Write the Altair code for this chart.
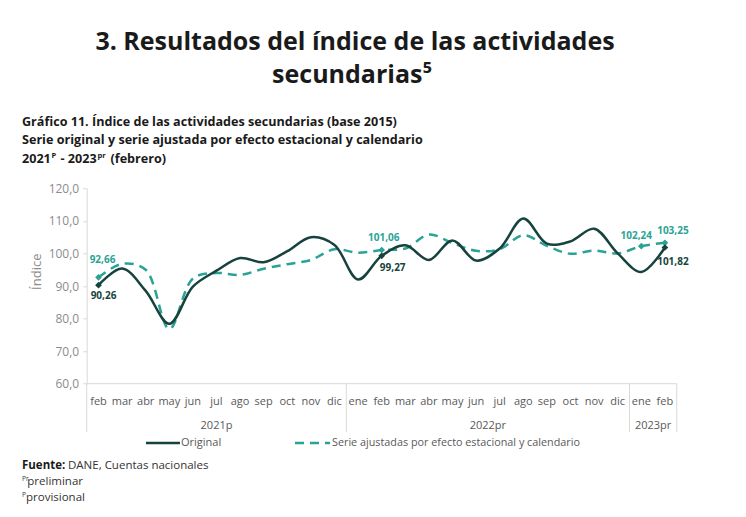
import altair as alt
import pandas as pd

# ---------------- data ----------------
months_2021 = ["feb", "mar", "abr", "may", "jun", "jul", "ago", "sep", "oct", "nov", "dic"]
months_2022 = ["ene", "feb", "mar", "abr", "may", "jun", "jul", "ago", "sep", "oct", "nov", "dic"]
months_2023 = ["ene", "feb"]
years = ["2021p", "2022pr", "2023pr"]

original = [90.26, 95.4, 88.5, 78.4, 89.8, 94.7, 98.6, 97.3, 100.7, 105.0, 102.6,
            92.0, 99.27, 102.5, 98.0, 104.0, 97.8, 101.5, 110.7, 103.0, 103.7, 107.6, 100.0,
            94.3, 101.82]
ajustada = [92.66, 96.8, 95.0, 76.8, 92.3, 94.0, 93.4, 95.3, 96.7, 98.0, 101.3,
            100.2, 101.06, 101.5, 105.8, 103.2, 100.8, 101.3, 105.6, 102.3, 99.9, 100.9, 100.0,
            102.24, 103.25]

y_ticks = [60, 70, 80, 90, 100, 110, 120]
marked_original = [0, 12, 24]
marked_ajustada = [0, 12, 23, 24]

# ---------------- layout helpers ----------------
W, H = 590, 195.4
OX, OY = 86.7, 188.3          # page position of the plot origin
DARK = "#17433e"
TEAL = "#2aa396"
GREY_TXT = "#595959"
AXIS_GREY = "#d9d9d9"
FONT = "Open Sans"

def px(x):
    return x - OX

def py(y):
    return y - OY

one = alt.Data(values=[{"k": 0}])
xs = alt.Scale(domain=[-0.5, 24.5])

def X(field):
    return alt.X(field, type="quantitative", scale=xs, axis=None)

def Y():
    return alt.Y("v:Q", scale=alt.Scale(domain=[60, 120], nice=False, zero=False),
                 axis=alt.Axis(values=y_ticks, labelExpr="replace(format(datum.value, '.1f'), '.', ',')",
                               title=None, grid=False, domainColor=AXIS_GREY, tickColor=AXIS_GREY,
                               tickSize=4, labelColor="#8c8c8c", labelFontSize=12, labelFont=FONT,
                               labelPadding=4, labelFontWeight="normal"))

# ---------------- tables ----------------
months = months_2021 + months_2022 + months_2023
n = len(months)
df_orig = pd.DataFrame({"i": range(n), "v": original})
df_adj = pd.DataFrame({"i": range(n), "v": ajustada})
df_months = pd.DataFrame({"i": range(n), "m": months})

sizes = [len(months_2021), len(months_2022), len(months_2023)]
bounds = [-0.5]
for s in sizes:
    bounds.append(bounds[-1] + s)
df_years = pd.DataFrame({"i": [(bounds[k] + bounds[k + 1]) / 2 for k in range(3)], "y": years})
df_bounds = pd.DataFrame({"b": bounds})

def fmt(v):
    return f"{v:.2f}".replace(".", ",")

# ---------------- layers ----------------
line_orig = alt.Chart(df_orig).mark_line(interpolate="catmull-rom", strokeWidth=2.5, color=DARK).encode(
    x=X("i"), y=Y())
line_adj = alt.Chart(df_adj).mark_line(interpolate="catmull-rom", strokeWidth=2.5, color=TEAL,
                                       strokeDash=[9, 6]).encode(x=X("i"), y=Y())

pts_orig = alt.Chart(df_orig.iloc[marked_original]).mark_point(shape="diamond", filled=True, size=45,
                                                               color=DARK, opacity=1).encode(x=X("i"), y=Y())
pts_adj = alt.Chart(df_adj.iloc[marked_ajustada]).mark_point(shape="diamond", filled=True, size=45,
                                                             color=TEAL, opacity=1).encode(x=X("i"), y=Y())

def value_label(df, idx, color, dx, dy):
    d = df.iloc[[idx]].copy()
    d["t"] = d["v"].map(fmt)
    return alt.Chart(d).mark_text(font=FONT, fontSize=10, fontWeight="bold", color=color,
                                  dx=dx, dy=dy).encode(x=X("i"), y=Y(), text="t:N")

labels = [
    value_label(df_adj, 0, TEAL, 4, -17),
    value_label(df_orig, 0, DARK, 5, 11),
    value_label(df_adj, 12, TEAL, 2, -12),
    value_label(df_orig, 12, DARK, 11, 12),
    value_label(df_adj, 23, TEAL, -5, -10),
    value_label(df_adj, 24, TEAL, 8, -12),
    value_label(df_orig, 24, DARK, 8, 14),
]

month_txt = alt.Chart(df_months).mark_text(font=FONT, fontSize=11, color=GREY_TXT, baseline="middle").encode(
    x=X("i"), y=alt.value(py(401.7)), text="m:N")
year_txt = alt.Chart(df_years).mark_text(font=FONT, fontSize=11, color=GREY_TXT, baseline="middle").encode(
    x=X("i"), y=alt.value(py(425.7)), text="y:N")
seps = alt.Chart(df_bounds).mark_rule(color=AXIS_GREY, strokeWidth=1).encode(
    x=X("b"), y=alt.value(H), y2=alt.value(py(432)))
xline = alt.Chart(one).mark_rule(color=AXIS_GREY, strokeWidth=1).encode(
    x=alt.value(0), x2=alt.value(W), y=alt.value(H))

def text_at(txt, x, y, size, weight="normal", color="#1a1a1a", align="left", baseline="middle", angle=0):
    kw = dict(font=FONT, fontSize=size, fontWeight=weight, color=color, align=align, baseline=baseline)
    if angle:
        kw["angle"] = angle
    return alt.Chart(one).mark_text(**kw).encode(x=alt.value(px(x)), y=alt.value(py(y)), text=alt.value(txt))

# legend
leg_orig = alt.Chart(one).mark_rule(color=DARK, strokeWidth=2.5).encode(
    x=alt.value(px(146)), x2=alt.value(px(180)), y=alt.value(py(443)))
leg_adj = alt.Chart(one).mark_rule(color=TEAL, strokeWidth=2.5, strokeDash=[9, 6]).encode(
    x=alt.value(px(295)), x2=alt.value(px(330)), y=alt.value(py(443)))

SUB = 12.6
texts = [
    text_at("3. Resultados del índice de las actividades", 355, 42, 25, "bold", align="center"),
    text_at("secundarias\u2075", 352, 75, 25, "bold", align="center"),
    text_at("Gráfico 11. Índice de las actividades secundarias (base 2015)", 22, 122, SUB, "bold"),
    text_at("Serie original y serie ajustada por efecto estacional y calendario", 22, 140, SUB, "bold"),
    text_at("2021", 22, 159, SUB, "bold"),
    text_at("P", 51.5, 155.5, 7.5, "bold"),
    text_at("- 2023", 60.5, 159, SUB, "bold"),
    text_at("pr", 97.5, 155.5, 7.5, "bold"),
    text_at("(febrero)", 110.5, 159, SUB, "bold"),
    text_at("Índice", 37.3, 271.7, 13, color="#8c8c8c", align="center", angle=270),
    text_at("Original", 181, 443, 11, color=GREY_TXT),
    text_at("Serie ajustadas por efecto estacional y calendario", 332, 443, 10.8, color=GREY_TXT),
    text_at("Fuente:", 22, 466, 11.5, "bold"),
    text_at("DANE, Cuentas nacionales", 68, 466, 11.5, color="#333333"),
    text_at("Pr", 22, 479, 6.5, color="#333333"),
    text_at("preliminar", 27.3, 482, 11.5, color="#333333"),
    text_at("P", 22, 495, 6.5, color="#333333"),
    text_at("provisional", 26, 498, 11.5, color="#333333"),
]

chart = alt.layer(
    xline, seps, month_txt, year_txt,
    line_adj, line_orig, pts_adj, pts_orig,
    *labels, leg_orig, leg_adj, *texts
).properties(
    width=W, height=H,
    autosize="none",
    padding={"left": OX - 8, "top": OY - 8, "right": 730 - (OX - 8) - W, "bottom": 501 - (OY - 8) - H},
    background="white",
).configure_view(stroke=None)

chart.save("out.html", embed_options={"renderer": "svg", "actions": False})
